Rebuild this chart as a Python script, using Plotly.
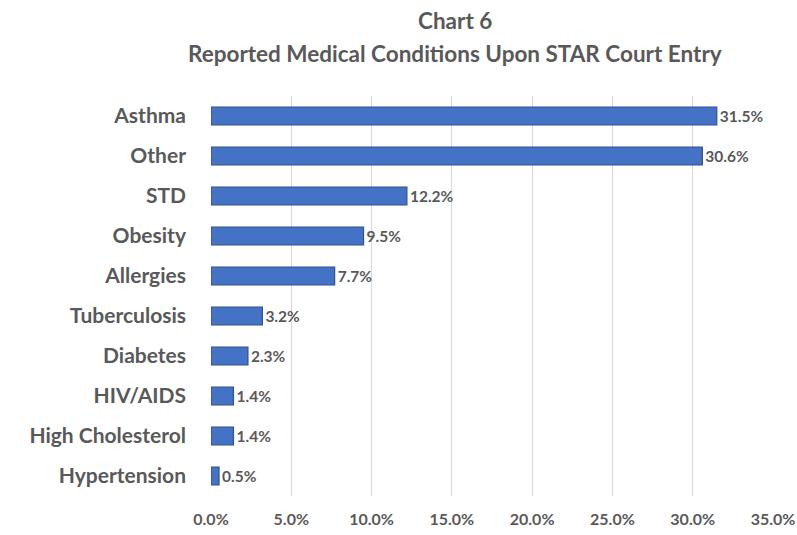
import plotly.graph_objects as go

categories = ["Asthma", "Other", "STD", "Obesity", "Allergies", "Tuberculosis",
              "Diabetes", "HIV/AIDS", "High Cholesterol", "Hypertension"]
values = [31.5, 30.6, 12.2, 9.5, 7.7, 3.2, 2.3, 1.4, 1.4, 0.5]
tick_vals = [0, 5, 10, 15, 20, 25, 30, 35]
tick_text = ["0.0%", "5.0%", "10.0%", "15.0%", "20.0%", "25.0%", "30.0%", "35.0%"]
title_lines = ["Chart 6", "Reported Medical Conditions Upon STAR Court Entry"]

FONT = "Lato"
GREY = "#595959"

fig = go.Figure(go.Bar(
    x=values, y=categories, orientation="h",
    marker=dict(color="#4472C4", line=dict(color="#2F528F", width=1.2)),
    text=[f"{v:.1f}%" for v in values], textposition="outside",
    textfont=dict(family=FONT, size=15.5, color=GREY, weight="bold"),
    cliponaxis=False,
))

fig.update_layout(
    width=797, height=535,
    paper_bgcolor="white", plot_bgcolor="white",
    margin=dict(l=211, r=24, t=96, b=39),
    bargap=0.55,
    showlegend=False,
    xaxis=dict(range=[0, 35], tickvals=tick_vals, ticktext=tick_text,
               showgrid=True, gridcolor="#D9D9D9", gridwidth=1, zeroline=False,
               showline=False, ticks="", automargin=False,
               tickfont=dict(family=FONT, size=16, color=GREY, weight="bold"),
               ticklabelstandoff=12),
    yaxis=dict(categoryorder="array", categoryarray=categories[::-1],
               showgrid=False, showline=False, ticks="", automargin=False,
               tickfont=dict(family=FONT, size=21, color=GREY, weight="bold"),
               ticklabelstandoff=24),
    annotations=[
        dict(text=f"<b>{title_lines[0]}</b>", xref="paper", yref="paper",
             x=(455 - 211) / 562, y=1 + (96 - 20) / 400, xanchor="center", yanchor="middle",
             showarrow=False, font=dict(family=FONT, size=22.5, color=GREY)),
        dict(text=f"<b>{title_lines[1]}</b>", xref="paper", yref="paper",
             x=(455 - 211) / 562, y=1 + (96 - 53) / 400, xanchor="center", yanchor="middle",
             showarrow=False, font=dict(family=FONT, size=22.5, color=GREY)),
    ],
)

fig.write_html("out.html", config={"displayModeBar": False},
               post_script="document.body.style.margin='0';")
